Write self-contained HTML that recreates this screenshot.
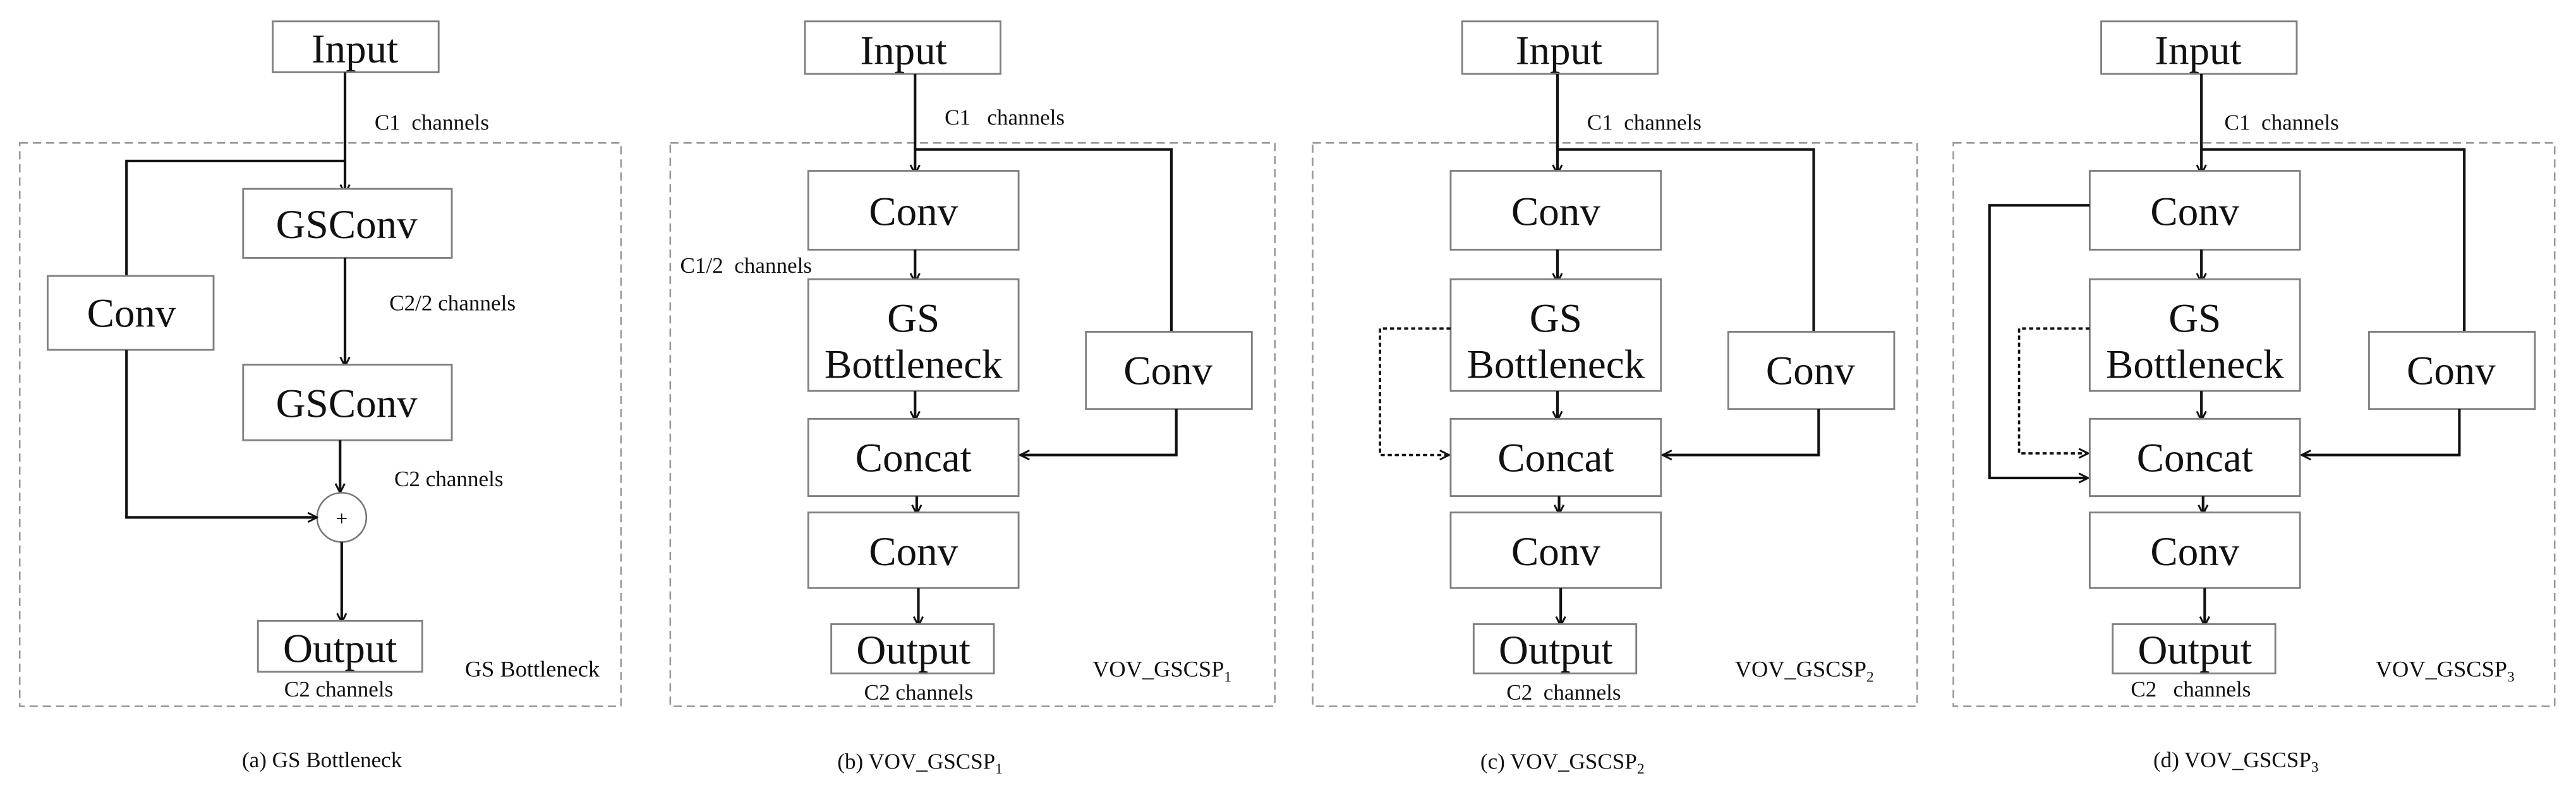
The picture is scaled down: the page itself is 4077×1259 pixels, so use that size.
<!DOCTYPE html>
<html><head><meta charset="utf-8"><style>
html,body{margin:0;padding:0;background:#fff;}
svg{display:block;}
text{font-family:"Liberation Serif",serif;fill:#111;}
.b{fill:#fff;stroke:#808080;stroke-width:1.1;}
.d{fill:none;stroke:#999;stroke-width:1;stroke-dasharray:5,3;}
.l{fill:none;stroke:#111;stroke-width:1.6;}
.dt{fill:none;stroke:#111;stroke-width:1.4;stroke-dasharray:2.5,1.8;}
.t{font-size:25px;text-anchor:middle;}
.s{font-size:13.5px;}
.c{font-size:13.5px;text-anchor:middle;}
</style></head><body>
<svg width="4077" height="1259" viewBox="0 0 1568 484" preserveAspectRatio="none" xmlns="http://www.w3.org/2000/svg">
<defs>
<marker id="a" viewBox="0 0 10 10" refX="9" refY="5" markerWidth="7" markerHeight="7" markerUnits="userSpaceOnUse" orient="auto"><path d="M1,1 L9,5 L1,9" fill="none" stroke="#111" stroke-width="1.6"/></marker>
</defs>

<!-- Panel a -->
<rect class="d" x="12" y="87" width="366" height="343"/>
<rect class="b" x="166" y="13" width="101" height="31"/><text class="t" x="216" y="38">Input</text>
<text class="s" x="228" y="79">C1&#160; channels</text>
<path class="l" d="M210,44 V118" marker-end="url(#a)"/>
<path class="l" d="M210,98 H77 V168"/>
<rect class="b" x="148" y="115" width="127" height="42"/><text class="t" x="211" y="145">GSConv</text>
<text class="s" x="237" y="189">C2/2 channels</text>
<path class="l" d="M210,157 V223" marker-end="url(#a)"/>
<rect class="b" x="148" y="222" width="127" height="46"/><text class="t" x="211" y="254">GSConv</text>
<rect class="b" x="29" y="168" width="101" height="45"/><text class="t" x="80" y="199">Conv</text>
<text class="s" x="240" y="296">C2 channels</text>
<path class="l" d="M207,268 V300" marker-end="url(#a)"/>
<circle cx="208" cy="315" r="15" fill="#fff" stroke="#777" stroke-width="1"/><text x="208" y="320" font-size="13" text-anchor="middle">+</text>
<path class="l" d="M77,213 V315 H193" marker-end="url(#a)"/>
<path class="l" d="M208,330 V379" marker-end="url(#a)"/>
<rect class="b" x="157" y="378" width="100" height="31"/><text class="t" x="207" y="403">Output</text>
<text class="s" x="173" y="424">C2 channels</text>
<text class="s" x="283" y="412" style="font-size:14px">GS Bottleneck</text>
<text class="c" x="196" y="467">(a) GS Bottleneck</text>

<!-- Panel b -->
<g>
<rect class="d" x="408" y="87" width="368" height="343"/>
<rect class="b" x="490" y="13" width="119" height="32"/><text class="t" x="550" y="39">Input</text>
<text class="s" x="575" y="76">C1&#160;&#160; channels</text>
<path class="l" d="M557,45 V106" marker-end="url(#a)"/>
<path class="l" d="M557,91 H713 V202"/>
<rect class="b" x="492" y="104" width="128" height="48"/><text class="t" x="556" y="137">Conv</text>
<text class="s" x="414" y="166">C1/2&#160; channels</text>
<path class="l" d="M557,152 V172" marker-end="url(#a)"/>
<rect class="b" x="492" y="170" width="128" height="68"/><text class="t" x="556" y="202">GS</text><text class="t" x="556" y="230">Bottleneck</text>
<path class="l" d="M557,238 V256" marker-end="url(#a)"/>
<rect class="b" x="492" y="255" width="128" height="47"/><text class="t" x="556" y="287">Concat</text>
<rect class="b" x="661" y="202" width="101" height="47"/><text class="t" x="711" y="234">Conv</text>
<path class="l" d="M716,249 V277 H621" marker-end="url(#a)"/>
<path class="l" d="M558,302 V313" marker-end="url(#a)"/>
<rect class="b" x="492" y="312" width="128" height="46"/><text class="t" x="556" y="344">Conv</text>
<path class="l" d="M559,358 V381" marker-end="url(#a)"/>
<rect class="b" x="506" y="380" width="99" height="30"/><text class="t" x="556" y="404">Output</text>
<text class="s" x="526" y="426">C2 channels</text>
<text class="s" x="665" y="412" style="font-size:14px">VOV_GSCSP<tspan font-size="9" dy="3">1</tspan></text>
<text class="c" x="560" y="468">(b) VOV_GSCSP<tspan font-size="9" dy="3">1</tspan></text>
</g>

<!-- Panel c -->
<g transform="translate(391,0)">
<rect class="d" x="408" y="87" width="368" height="343"/>
<rect class="b" x="499" y="13" width="119" height="32"/><text class="t" x="558" y="39">Input</text>
<text class="s" x="575" y="79">C1&#160; channels</text>
<path class="l" d="M557,45 V106" marker-end="url(#a)"/>
<path class="l" d="M557,91 H713 V202"/>
<rect class="b" x="492" y="104" width="128" height="48"/><text class="t" x="556" y="137">Conv</text>
<path class="l" d="M557,152 V172" marker-end="url(#a)"/>
<rect class="b" x="492" y="170" width="128" height="68"/><text class="t" x="556" y="202">GS</text><text class="t" x="556" y="230">Bottleneck</text>
<path class="dt" d="M492,200 H449 V277 H491" marker-end="url(#a)"/>
<path class="l" d="M557,238 V256" marker-end="url(#a)"/>
<rect class="b" x="492" y="255" width="128" height="47"/><text class="t" x="556" y="287">Concat</text>
<rect class="b" x="661" y="202" width="101" height="47"/><text class="t" x="711" y="234">Conv</text>
<path class="l" d="M716,249 V277 H621" marker-end="url(#a)"/>
<path class="l" d="M558,302 V313" marker-end="url(#a)"/>
<rect class="b" x="492" y="312" width="128" height="46"/><text class="t" x="556" y="344">Conv</text>
<path class="l" d="M559,358 V381" marker-end="url(#a)"/>
<rect class="b" x="506" y="380" width="99" height="30"/><text class="t" x="556" y="404">Output</text>
<text class="s" x="526" y="426">C2&#160; channels</text>
<text class="s" x="665" y="412" style="font-size:14px">VOV_GSCSP<tspan font-size="9" dy="3">2</tspan></text>
<text class="c" x="560" y="468">(c) VOV_GSCSP<tspan font-size="9" dy="3">2</tspan></text>
</g>

<!-- Panel d -->
<g transform="translate(780,0)">
<rect class="d" x="409" y="87" width="366" height="343"/>
<rect class="b" x="499" y="13" width="119" height="32"/><text class="t" x="558" y="39">Input</text>
<text class="s" x="574" y="79">C1&#160; channels</text>
<path class="l" d="M560,45 V106" marker-end="url(#a)"/>
<path class="l" d="M560,91 H720 V202"/>
<rect class="b" x="492" y="104" width="128" height="48"/><text class="t" x="556" y="137">Conv</text>
<path class="l" d="M492,125 H431 V291 H491" marker-end="url(#a)"/>
<path class="l" d="M560,152 V172" marker-end="url(#a)"/>
<rect class="b" x="492" y="170" width="128" height="68"/><text class="t" x="556" y="202">GS</text><text class="t" x="556" y="230">Bottleneck</text>
<path class="dt" d="M492,200 H449 V276 H491" marker-end="url(#a)"/>
<path class="l" d="M560,238 V256" marker-end="url(#a)"/>
<rect class="b" x="492" y="255" width="128" height="47"/><text class="t" x="556" y="287">Concat</text>
<rect class="b" x="662" y="202" width="101" height="47"/><text class="t" x="712" y="234">Conv</text>
<path class="l" d="M717,249 V277 H621" marker-end="url(#a)"/>
<path class="l" d="M561,302 V313" marker-end="url(#a)"/>
<rect class="b" x="492" y="312" width="128" height="46"/><text class="t" x="556" y="344">Conv</text>
<path class="l" d="M562,358 V381" marker-end="url(#a)"/>
<rect class="b" x="506" y="380" width="99" height="30"/><text class="t" x="556" y="404">Output</text>
<text class="s" x="517" y="424">C2&#160;&#160; channels</text>
<text class="s" x="666" y="412" style="font-size:14px">VOV_GSCSP<tspan font-size="9" dy="3">3</tspan></text>
<text class="c" x="581" y="467">(d) VOV_GSCSP<tspan font-size="9" dy="3">3</tspan></text>
</g>
</svg>
</body></html>
